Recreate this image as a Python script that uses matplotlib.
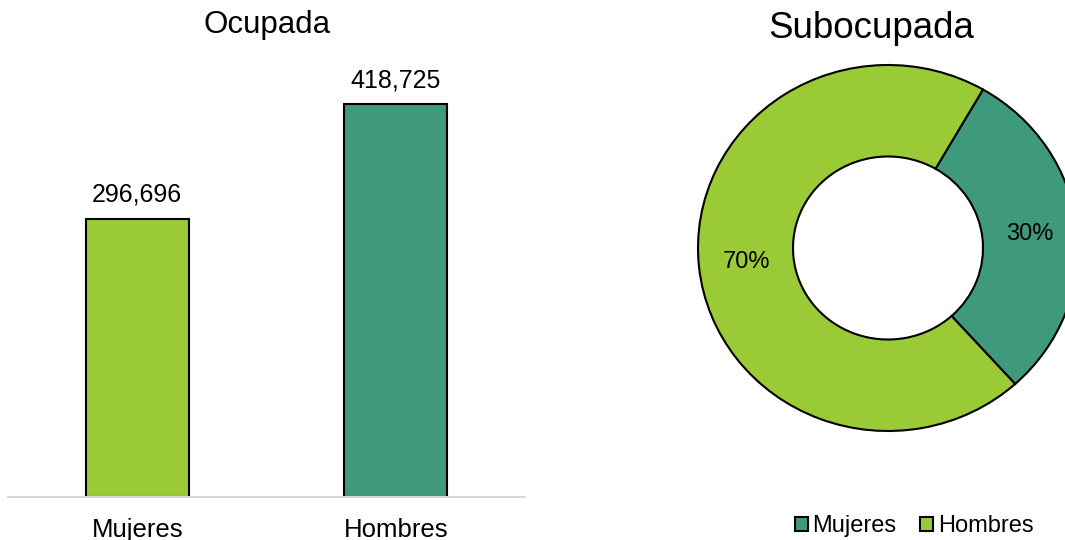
from matplotlib import pyplot as plt
from matplotlib.patches import Patch

plt.rcParams['font.family'] = ['Liberation Sans', 'DejaVu Sans']

# data
categorias = ["Mujeres", "Hombres"]
ocupada = [296696, 418725]
subocupada_pct = [30, 70]

verde_claro = "#9ACB37"
verde_osc = "#3F997D"

W, H = 1065, 540
fig = plt.figure(figsize=(W / 100, H / 100), dpi=100)


def px_axes(left, top, right, bottom):
    return fig.add_axes([left / W, 1 - bottom / H, (right - left) / W, (bottom - top) / H])


# ---- bar chart: Ocupada
ax = px_axes(8, 75, 525, 497)
x = range(len(categorias))
bars = ax.bar(x, ocupada, width=0.4, color=[verde_claro, verde_osc],
              edgecolor="black", linewidth=1.5, zorder=2)
ax.set_xlim(-0.5, 1.5)
ax.set_ylim(0, 450000)
for b, v in zip(bars, ocupada):
    ax.annotate(f"{v:,}", (b.get_x() + b.get_width() / 2, v),
                xytext=(0, 8.5), textcoords="offset points",
                ha="center", va="bottom", fontsize=18)
ax.set_xticks(list(x))
ax.set_xticklabels(categorias, fontsize=18.5)
ax.tick_params(axis="x", length=0, pad=15)
ax.set_yticks([])
for s in ["top", "right", "left"]:
    ax.spines[s].set_visible(False)
ax.spines["bottom"].set_color("#D9D9D9")
ax.spines["bottom"].set_linewidth(1.5)
fig.text(267 / W, 1 - 25 / H, "Ocupada", ha="center", va="center", fontsize=22.5)

# ---- donut chart: Subocupada
ax2 = px_axes(698, 65, 1078, 431)
wedges, texts, autotexts = ax2.pie(
    subocupada_pct, colors=[verde_osc, verde_claro], startangle=60,
    counterclock=False, autopct="%d%%", pctdistance=0.75,
    wedgeprops=dict(width=0.5, edgecolor="black", linewidth=1.5),
    textprops=dict(fontsize=17), radius=1)
ax2.set_aspect("auto")
ax2.set_xlim(-1, 1)
ax2.set_ylim(-1, 1)
fig.text(871 / W, 1 - 28 / H, "Subocupada", ha="center", va="center", fontsize=26.5)

handles = [Patch(facecolor=c, edgecolor="black", linewidth=1.5)
           for c in [verde_osc, verde_claro]]
fig.legend(handles, categorias, loc="center", bbox_to_anchor=(914 / W, 1 - 526 / H),
           ncol=2, frameon=False, fontsize=17, handlelength=0.55, handleheight=0.55,
           handletextpad=0.2, columnspacing=1.0, borderpad=0)

fig.savefig("out.png", dpi=100)
